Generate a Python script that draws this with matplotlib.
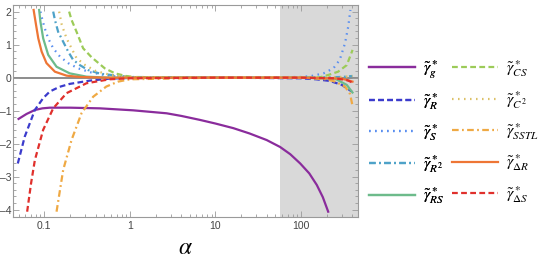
import matplotlib
matplotlib.use("Agg")
import matplotlib.pyplot as plt
from matplotlib.lines import Line2D
from matplotlib.ticker import LogLocator, FixedLocator, NullFormatter, FuncFormatter

plt.rcParams['mathtext.fontset'] = 'stix'
plt.rcParams['font.family'] = ['Liberation Sans', 'DejaVu Sans']

# ---- data ----
a_g = [0.05, 0.062, 0.0775, 0.095, 0.116, 0.2, 0.446, 1.09, 2.69, 4.0, 6.59, 10, 16.2, 25, 39.7, 57, 75, 98, 125, 153, 180, 208]
y_g = [-1.25, -1.1, -0.98, -0.93, -0.91, -0.91, -0.93, -0.99, -1.08, -1.16, -1.28, -1.39, -1.53, -1.69, -1.89, -2.1, -2.32, -2.6, -2.9, -3.25, -3.62, -4.06]

a_R = [0.049, 0.059, 0.0775, 0.097, 0.116, 0.15, 0.198, 0.34, 0.58, 1, 10, 100, 150, 218, 300, 392]
y_R = [-2.6, -1.79, -0.98, -0.62, -0.42, -0.28, -0.19, -0.09, -0.03, -0.01, 0, -0.02, -0.05, -0.1, -0.22, -0.42]

a_S = [0.09, 0.095, 0.101, 0.111, 0.127, 0.152, 0.19, 0.249, 0.35, 0.5, 0.72, 1, 10, 100, 133, 183, 239, 284, 327, 357, 378]
y_S = [2.0, 1.75, 1.5, 1.19, 0.89, 0.64, 0.44, 0.28, 0.16, 0.08, 0.03, 0.01, 0, 0.02, 0.05, 0.13, 0.28, 0.54, 1.04, 1.55, 2.05]

a_R2 = [0.127, 0.133, 0.145, 0.166, 0.19, 0.217, 0.26, 0.325, 0.45, 0.61, 1, 10, 100, 300, 400]
y_R2 = [2.0, 1.75, 1.39, 1.09, 0.79, 0.54, 0.38, 0.23, 0.12, 0.08, 0.02, 0, 0, 0.02, 0.05]

a_RS = [0.087, 0.09, 0.097, 0.111, 0.139, 0.198, 0.311, 0.56, 1, 100, 250, 343, 392, 400]
y_RS = [2.05, 1.7, 1.19, 0.69, 0.33, 0.13, 0.03, 0, 0, 0, -0.03, -0.22, -0.42, -0.45]

a_CS = [0.195, 0.208, 0.238, 0.284, 0.356, 0.51, 0.67, 0.9, 1.2, 10, 100, 167, 208, 272, 343, 401]
y_CS = [2.0, 1.75, 1.39, 0.89, 0.62, 0.28, 0.13, 0.05, 0.01, 0, 0, 0.01, 0.08, 0.18, 0.38, 0.84]

a_C2 = [0.149, 0.16, 0.182, 0.208, 0.238, 0.3, 0.4, 0.6, 1, 10, 100, 300, 400]
y_C2 = [2.0, 1.6, 1.19, 0.89, 0.59, 0.38, 0.2, 0.08, 0.02, 0, 0, 0.02, 0.05]

a_SSTL = [0.139, 0.166, 0.208, 0.272, 0.372, 0.53, 0.73, 1, 10, 100, 200, 250, 327, 375, 400]
y_SSTL = [-4.06, -2.8, -1.89, -1.08, -0.58, -0.27, -0.12, -0.05, 0, 0, -0.05, -0.12, -0.27, -0.5, -0.85]

a_dR = [0.075, 0.08, 0.085, 0.093, 0.106, 0.133, 0.182, 0.26, 0.5, 1, 100, 300, 400]
y_dR = [2.05, 1.6, 1.19, 0.79, 0.44, 0.18, 0.06, 0.02, 0, 0, 0, -0.03, -0.12]

a_dS = [0.063, 0.07, 0.0775, 0.097, 0.127, 0.182, 0.311, 0.58, 1, 10, 100, 250, 350, 400]
y_dS = [-4.06, -3.2, -2.5, -1.58, -0.93, -0.47, -0.17, -0.05, -0.02, 0, 0, -0.02, -0.08, -0.15]

shade_start = 57
x_ticks = [0.1, 1, 10, 100]
x_tick_labels = ["0.1", "1", "10", "100"]
y_ticks = [-4, -3, -2, -1, 0, 1, 2]

labels = [r"$\tilde{\gamma}^*_{g}$", r"$\tilde{\gamma}^*_{R}$", r"$\tilde{\gamma}^*_{S}$",
          r"$\tilde{\gamma}^*_{R^2}$", r"$\tilde{\gamma}^*_{RS}$", r"$\tilde{\gamma}^*_{CS}$",
          r"$\tilde{\gamma}^*_{C^2}$", r"$\tilde{\gamma}^*_{SSTL}$", r"$\tilde{\gamma}^*_{\Delta R}$",
          r"$\tilde{\gamma}^*_{\Delta S}$"]

# ---- styles ----
dash = (0, (2.6, 1.5))
dot = (0, (0.7, 2.0))
dashdot = (0, (3.0, 1.5, 0.8, 1.5))
series = [
    (a_g, y_g, "#8a2c9c", "-"),
    (a_R, y_R, "#3b3bcc", dash),
    (a_S, y_S, "#5a8ff0", dot),
    (a_R2, y_R2, "#4ea2c8", dashdot),
    (a_RS, y_RS, "#6dbb8b", "-"),
    (a_CS, y_CS, "#9ccb58", dash),
    (a_C2, y_C2, "#dcc168", dot),
    (a_SSTL, y_SSTL, "#efa944", dashdot),
    (a_dR, y_dR, "#ee7635", "-"),
    (a_dS, y_dS, "#e0302c", dash),
]

fig = plt.figure(figsize=(5.4, 2.66), dpi=100)
ax = fig.add_axes([13.3 / 540, 1 - 217.3 / 266, (358 - 13.3) / 540, (217.3 - 5) / 266])

ax.set_xscale("log")
xmin, xmax = 0.0434, 464
ax.set_xlim(xmin, xmax)
ax.set_ylim(-4.23, 2.2)

ax.axvspan(shade_start, xmax, color="#d9d9d9", lw=0, zorder=0)
ax.axhline(0, color="#8c8c8c", lw=1.4, zorder=1.5)

handles = []
for a, y, c, ls in series:
    ax.plot(a, y, color=c, ls=ls, lw=1.6, zorder=2, clip_on=True)
    handles.append(Line2D([], [], color=c, ls=ls, lw=1.6))

# ticks & frame
for sp in ax.spines.values():
    sp.set_color("#9a9a9a")
    sp.set_linewidth(0.8)
ax.xaxis.set_major_locator(FixedLocator(x_ticks))
ax.xaxis.set_major_formatter(FuncFormatter(lambda v, p: x_tick_labels[x_ticks.index(v)] if v in x_ticks else ""))
ax.xaxis.set_minor_locator(LogLocator(base=10, subs=range(2, 10)))
ax.xaxis.set_minor_formatter(NullFormatter())
ax.set_yticks(y_ticks)
ax.set_yticklabels([str(v).replace("-", "\u2013") for v in y_ticks])
ax.yaxis.set_minor_locator(FixedLocator([v / 5 for v in range(-20, 11)]))
ax.tick_params(which="both", direction="in", top=True, right=True, color="#9a9a9a",
               labelsize=7.5, labelcolor="#444444", width=0.6)
ax.tick_params(axis="y", pad=1.5)
ax.tick_params(axis="x", pad=3)
ax.tick_params(which="major", length=4)
ax.tick_params(which="minor", length=2)
ax.set_xlabel(r"$\alpha$", fontsize=17, labelpad=4)

# legend in two columns
common = dict(loc="upper left", frameon=False, fontsize=11.5, handlelength=2.9, handletextpad=0.45,
              labelspacing=0.65, borderaxespad=0, borderpad=0)
leg1 = fig.legend(handles[:5], labels[:5], bbox_to_anchor=(369 / 540, 1 - 58 / 266), **common)
leg2 = fig.legend(handles[5:], labels[5:], bbox_to_anchor=(452 / 540, 1 - 58 / 266), **common)
fig.add_artist(leg1)

fig.savefig("out.png", dpi=100)
